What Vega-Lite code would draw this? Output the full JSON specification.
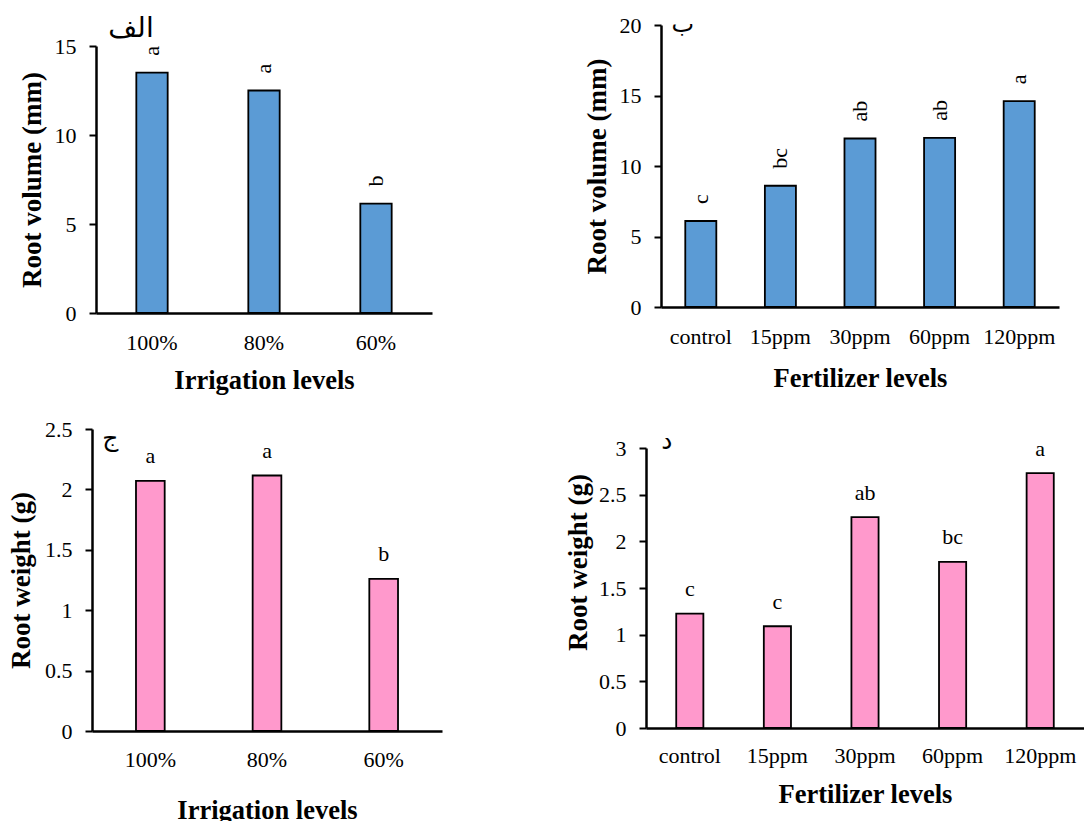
{
  "$schema": "https://vega.github.io/schema/vega-lite/v6.json",
  "autosize": {"type": "none"},
  "padding": {"left": 96, "top": 25, "right": 988, "bottom": 796},
  "background": "white",
  "config": {
    "view": {"stroke": null},
    "font": "Liberation Serif",
    "axis": {
      "grid": false,
      "domainColor": "black",
      "domainWidth": 2.5,
      "tickColor": "black",
      "tickWidth": 2,
      "tickSize": 7,
      "labelFont": "Liberation Serif",
      "labelFontSize": 22,
      "labelColor": "black",
      "titleFont": "Liberation Serif",
      "titleFontWeight": "bold",
      "titleColor": "black"
    },
    "axisX": {"ticks": false, "labelPadding": 19, "labelAngle": 0, "titleFontSize": 26.5, "titlePadding": 17},
    "axisY": {"labelPadding": 13, "titlePadding": 9, "titleFontSize": 27, "format": "~g"}
  },
  "columns": 2,
  "bounds": "flush",
  "align": "each",
  "spacing": {"row": 116, "column": 219},
  "concat": [
    {
      "width": 336,
      "height": 288,
      "data": {"values": [
        {"level": "100%", "value": 13.5, "sig": "a", "tag": "الف"},
        {"level": "80%", "value": 12.5, "sig": "a", "tag": ""},
        {"level": "60%", "value": 6.15, "sig": "b", "tag": ""}
      ]},
      "encoding": {
        "x": {"field": "level", "type": "nominal", "sort": null,
              "scale": {"paddingInner": 0.72, "paddingOuter": 0.36},
              "axis": {"title": "Irrigation levels", "titlePadding": 14}},
        "y": {"field": "value", "type": "quantitative",
              "scale": {"domain": [0, 15], "range": [288, 21]},
              "axis": {"values": [0, 5, 10, 15], "title": "Root volume (mm)", "titlePadding": 8}}
      },
      "layer": [
        {"mark": {"type": "bar", "fill": "#5B9BD5", "stroke": "black", "strokeWidth": 1.8}},
        {"mark": {"type": "text", "angle": 270, "align": "left", "baseline": "middle", "dx": 17, "fontSize": 22, "color": "black"},
         "encoding": {"text": {"field": "sig"}}},
        {"mark": {"type": "text", "align": "center", "baseline": "middle", "dx": -21, "dy": -17, "fontSize": 28, "color": "black", "font": "DejaVu Sans"},
         "encoding": {"y": {"datum": 15}, "text": {"field": "tag"}}}
      ]
    },
    {
      "width": 398,
      "height": 282,
      "data": {"values": [
        {"level": "control", "value": 6.1, "sig": "c", "tag": "ب"},
        {"level": "15ppm", "value": 8.6, "sig": "bc", "tag": ""},
        {"level": "30ppm", "value": 11.95, "sig": "ab", "tag": ""},
        {"level": "60ppm", "value": 12.0, "sig": "ab", "tag": ""},
        {"level": "120ppm", "value": 14.6, "sig": "a", "tag": ""}
      ]},
      "encoding": {
        "x": {"field": "level", "type": "nominal", "sort": null,
              "scale": {"paddingInner": 0.61, "paddingOuter": 0.305},
              "axis": {"title": "Fertilizer levels", "titlePadding": 18}},
        "y": {"field": "value", "type": "quantitative",
              "scale": {"domain": [0, 20]},
              "axis": {"values": [0, 5, 10, 15, 20], "title": "Root volume (mm)", "titlePadding": 8}}
      },
      "layer": [
        {"mark": {"type": "bar", "fill": "#5B9BD5", "stroke": "black", "strokeWidth": 1.8}},
        {"mark": {"type": "text", "angle": 270, "align": "left", "baseline": "middle", "dx": 17, "fontSize": 22, "color": "black"},
         "encoding": {"text": {"field": "sig"}}},
        {"mark": {"type": "text", "align": "center", "baseline": "middle", "dx": -18, "dy": 0, "fontSize": 24, "color": "black", "font": "DejaVu Sans"},
         "encoding": {"y": {"datum": 20}, "text": {"field": "tag"}}}
      ]
    },
    {
      "width": 346,
      "height": 302,
      "data": {"values": [
        {"level": "100%", "value": 2.07, "sig": "a", "tag": "ج"},
        {"level": "80%", "value": 2.115, "sig": "a", "tag": ""},
        {"level": "60%", "value": 1.26, "sig": "b", "tag": ""}
      ]},
      "encoding": {
        "x": {"field": "level", "type": "nominal", "sort": null,
              "scale": {"range": [-4, 346], "paddingInner": 0.754, "paddingOuter": 0.377},
              "axis": {"title": "Irrigation levels", "labelPadding": 18, "titlePadding": 27}},
        "y": {"field": "value", "type": "quantitative",
              "scale": {"domain": [0, 2.5]},
              "axis": {"values": [0, 0.5, 1, 1.5, 2, 2.5], "title": "Root weight (g)", "offset": 4}}
      },
      "layer": [
        {"mark": {"type": "bar", "fill": "#FF99CC", "stroke": "black", "strokeWidth": 1.8}},
        {"mark": {"type": "text", "baseline": "alphabetic", "dy": -17.5, "fontSize": 22, "color": "black"},
         "encoding": {"text": {"field": "sig"}}},
        {"mark": {"type": "text", "align": "center", "baseline": "middle", "dx": -40, "dy": 9, "fontSize": 25, "color": "black", "font": "DejaVu Sans"},
         "encoding": {"y": {"datum": 2.5}, "text": {"field": "tag"}}}
      ]
    },
    {
      "width": 423,
      "height": 299,
      "data": {"values": [
        {"level": "control", "value": 1.225, "sig": "c", "tag": "د"},
        {"level": "15ppm", "value": 1.09, "sig": "c", "tag": ""},
        {"level": "30ppm", "value": 2.26, "sig": "ab", "tag": ""},
        {"level": "60ppm", "value": 1.78, "sig": "bc", "tag": ""},
        {"level": "120ppm", "value": 2.73, "sig": "a", "tag": ""}
      ]},
      "encoding": {
        "x": {"field": "level", "type": "nominal", "sort": null,
              "scale": {"range": [-15, 423], "paddingInner": 0.69, "paddingOuter": 0.345},
              "axis": {"title": "Fertilizer levels", "labelPadding": 17, "titlePadding": 15}},
        "y": {"field": "value", "type": "quantitative",
              "scale": {"domain": [0, 3], "range": [299, 19]},
              "axis": {"values": [0, 0.5, 1, 1.5, 2, 2.5, 3], "title": "Root weight (g)", "offset": 15, "titlePadding": 6, "titleY": 133}}
      },
      "layer": [
        {"mark": {"type": "bar", "fill": "#FF99CC", "stroke": "black", "strokeWidth": 1.8}},
        {"mark": {"type": "text", "baseline": "alphabetic", "dy": -17.5, "fontSize": 22, "color": "black"},
         "encoding": {"text": {"field": "sig"}}},
        {"mark": {"type": "text", "align": "center", "baseline": "middle", "dx": -23, "dy": -7, "fontSize": 25, "color": "black", "font": "DejaVu Sans"},
         "encoding": {"y": {"datum": 3}, "text": {"field": "tag"}}}
      ]
    }
  ]
}
